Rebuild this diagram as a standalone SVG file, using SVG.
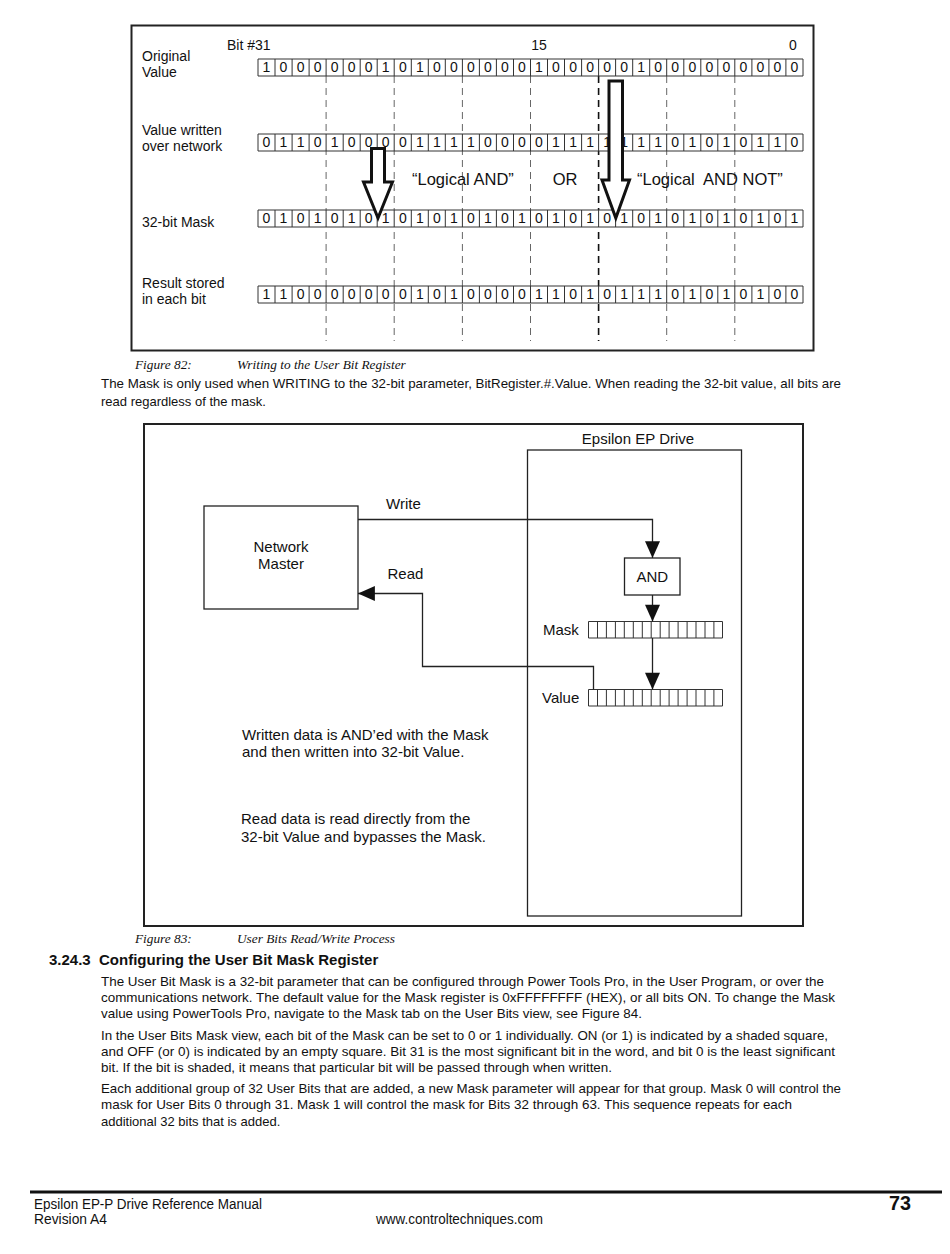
<svg xmlns="http://www.w3.org/2000/svg" xmlns:xlink="http://www.w3.org/1999/xlink" width="950" height="1254" viewBox="0 0 950 1254">
<style>
.s{font-family:"Liberation Sans",Arial,sans-serif;fill:#111}
.f14{font-size:14px}
.f15{font-size:15px}
.f13{font-size:13px}
.dig{font-family:"Liberation Sans",Arial,sans-serif;font-size:14px;fill:#111;text-anchor:middle}
.cap{font-family:"Liberation Serif","Times New Roman",serif;font-style:italic;font-size:13.3px;fill:#111}
.box{fill:#fff;stroke:#222;stroke-width:1.3}
.frame{fill:none;stroke:#222;stroke-width:2}
.dash{stroke:#666;stroke-width:1;stroke-dasharray:7,5;fill:none}
.bigarrow{fill:#fff;stroke:#111;stroke-width:3;stroke-linejoin:miter}
.conn{fill:none;stroke:#222;stroke-width:1.3}
.cells{fill:#fff;stroke:#333;stroke-width:1}
</style>
<defs>
<path id="row32" class="cells" d="M258,0H803V17H258Z M275,0V17 M292.1,0V17 M309.1,0V17 M326.1,0V17 M343.2,0V17 M360.2,0V17 M377.2,0V17 M394.2,0V17 M411.3,0V17 M428.3,0V17 M445.3,0V17 M462.4,0V17 M479.4,0V17 M496.4,0V17 M513.5,0V17 M530.5,0V17 M547.5,0V17 M564.5,0V17 M581.6,0V17 M598.6,0V17 M615.6,0V17 M632.7,0V17 M649.7,0V17 M666.7,0V17 M683.8,0V17 M700.8,0V17 M717.8,0V17 M734.8,0V17 M751.9,0V17 M768.9,0V17 M785.9,0V17"/>
<path id="row15" class="cells" d="M588.5,0H722.5V16.5H588.5Z M597.5,0V16.5 M606.4,0V16.5 M615.4,0V16.5 M624.3,0V16.5 M633.3,0V16.5 M642.3,0V16.5 M651.2,0V16.5 M660.2,0V16.5 M669.1,0V16.5 M678.1,0V16.5 M687.1,0V16.5 M696,0V16.5 M705,0V16.5 M713.9,0V16.5"/>
<marker id="ah" viewBox="0 0 18 16" refX="18" refY="8" markerWidth="18" markerHeight="15" markerUnits="userSpaceOnUse" orient="auto">
<path d="M0,0L18,8L0,16Z" fill="#111"/>
</marker>
</defs>
<rect x="0" y="0" width="950" height="1254" fill="#fff"/>

<!-- Figure 82 -->
<g id="fig82">
<rect class="frame" x="131.5" y="25.5" width="682" height="325"/>
<g id="bit-labels" class="s f14">
<text x="227" y="50">Bit #31</text>
<text x="539" y="50" text-anchor="middle">15</text>
<text x="793" y="50" text-anchor="middle">0</text>
</g>
<g id="row-labels" class="s f14">
<text x="142" y="61">Original</text>
<text x="142" y="77">Value</text>
<text x="142" y="135">Value written</text>
<text x="142" y="151">over network</text>
<text x="142" y="227">32-bit Mask</text>
<text x="142" y="288">Result stored</text>
<text x="142" y="304">in each bit</text>
</g>
<g id="group-dividers">
<path class="dash" d="M326.1,76V341 M394.2,76V341 M462.4,76V341 M530.5,76V341 M666.7,76V341 M734.8,76V341"/>
<path class="dash" d="M598.6,76V341" style="stroke:#111;stroke-width:1.6"/>
</g>
<g id="row-original">
<use xlink:href="#row32" href="#row32" y="59"/>
<text class="dig" y="72" x="266.5 283.5 300.6 317.6 334.6 351.7 368.7 385.7 402.8 419.8 436.8 453.9 470.9 487.9 504.9 522 539 556 573.1 590.1 607.1 624.2 641.2 658.2 675.2 692.3 709.3 726.3 743.4 760.4 777.4 794.5">10000001010000001000001000000000</text>
</g>
<g id="row-written">
<use xlink:href="#row32" href="#row32" y="134"/>
<text class="dig" y="147" x="266.5 283.5 300.6 317.6 334.6 351.7 368.7 385.7 402.8 419.8 436.8 453.9 470.9 487.9 504.9 522 539 556 573.1 590.1 607.1 624.2 641.2 658.2 675.2 692.3 709.3 726.3 743.4 760.4 777.4 794.5">01101000011110000111111101010110</text>
</g>
<g id="row-mask">
<use xlink:href="#row32" href="#row32" y="210"/>
<text class="dig" y="223" x="266.5 283.5 300.6 317.6 334.6 351.7 368.7 385.7 402.8 419.8 436.8 453.9 470.9 487.9 504.9 522 539 556 573.1 590.1 607.1 624.2 641.2 658.2 675.2 692.3 709.3 726.3 743.4 760.4 777.4 794.5">01010101010101010101010101010101</text>
</g>
<g id="row-result">
<use xlink:href="#row32" href="#row32" y="286"/>
<text class="dig" y="299" x="266.5 283.5 300.6 317.6 334.6 351.7 368.7 385.7 402.8 419.8 436.8 453.9 470.9 487.9 504.9 522 539 556 573.1 590.1 607.1 624.2 641.2 658.2 675.2 692.3 709.3 726.3 743.4 760.4 777.4 794.5">11000000010100001101011101010100</text>
</g>
<g id="arrow-and">
<polygon class="bigarrow" points="371.5,148.5 384.5,148.5 384.5,182 392.5,182 378,218 363.5,182 371.5,182"/>
</g>
<g id="arrow-andnot">
<polygon class="bigarrow" points="609,81 622.5,81 622.5,180 629.5,180 615.8,218 602,180 609,180"/>
</g>
<g id="op-labels" class="s" style="font-size:16.5px">
<text x="412" y="185">“Logical AND”</text>
<text x="565" y="185" text-anchor="middle">OR</text>
<text x="637" y="185" xml:space="preserve">“Logical  AND NOT”</text>
</g>
</g>
<text class="cap" x="135" y="369">Figure 82:</text>
<text class="cap" x="237" y="369">Writing to the User Bit Register</text>
<g class="s f13">
<text x="101" y="388" textLength="740" lengthAdjust="spacingAndGlyphs">The Mask is only used when WRITING to the 32-bit parameter, BitRegister.#.Value. When reading the 32-bit value, all bits are</text>
<text x="101" y="406">read regardless of the mask.</text>
</g>

<!-- Figure 83 -->
<g id="fig83">
<rect class="frame" x="144" y="424" width="659" height="502"/>
<g id="drive">
<text class="s f15" x="638" y="444" text-anchor="middle">Epsilon EP Drive</text>
<rect class="box" x="527.5" y="450" width="214" height="466" fill="none"/>
</g>
<g id="network-master">
<rect class="box" x="204" y="506" width="154" height="103"/>
<text class="s f15" x="281" y="552" text-anchor="middle">Network</text>
<text class="s f15" x="281" y="569" text-anchor="middle">Master</text>
</g>
<g id="and-gate">
<rect class="box" x="624.5" y="558" width="55.5" height="37"/>
<text class="s f15" x="652.3" y="582" text-anchor="middle">AND</text>
</g>
<g id="mask-register">
<text class="s f15" x="543" y="635">Mask</text>
<use xlink:href="#row15" href="#row15" y="621.5"/>
</g>
<g id="value-register">
<text class="s f15" x="542" y="703">Value</text>
<use xlink:href="#row15" href="#row15" y="689.5"/>
</g>
<g id="connectors">
<path class="conn" d="M358,519.5H652.5V558" marker-end="url(#ah)"/>
<path class="conn" d="M652.5,595V621.5" marker-end="url(#ah)"/>
<path class="conn" d="M652.5,638V689.5" marker-end="url(#ah)"/>
<path class="conn" d="M593.5,689.5V666.5H422.5V593.5H358" marker-end="url(#ah)"/>
<text class="s f15" x="386" y="509">Write</text>
<text class="s f15" x="387.5" y="579">Read</text>
</g>
<g id="notes" class="s f15">
<text x="242" y="740">Written data is AND’ed with the Mask</text>
<text x="242" y="757">and then written into 32-bit Value.</text>
<text x="241" y="824">Read data is read directly from the</text>
<text x="241" y="842">32-bit Value and bypasses the Mask.</text>
</g>
</g>
<text class="cap" x="135" y="943">Figure 83:</text>
<text class="cap" x="237" y="943">User Bits Read/Write Process</text>

<text class="s" x="49" y="965" style="font-size:15px;font-weight:bold" xml:space="preserve">3.24.3  Configuring the User Bit Mask Register</text>
<g class="s f13">
<text x="101" y="986" textLength="723" lengthAdjust="spacingAndGlyphs">The User Bit Mask is a 32-bit parameter that can be configured through Power Tools Pro, in the User Program, or over the</text>
<text x="101" y="1002" textLength="734" lengthAdjust="spacingAndGlyphs">communications network. The default value for the Mask register is 0xFFFFFFFF (HEX), or all bits ON. To change the Mask</text>
<text x="101" y="1018" textLength="541" lengthAdjust="spacingAndGlyphs">value using PowerTools Pro, navigate to the Mask tab on the User Bits view, see Figure 84.</text>
<text x="101" y="1040" textLength="727" lengthAdjust="spacingAndGlyphs">In the User Bits Mask view, each bit of the Mask can be set to 0 or 1 individually. ON (or 1) is indicated by a shaded square,</text>
<text x="101" y="1056" textLength="734" lengthAdjust="spacingAndGlyphs">and OFF (or 0) is indicated by an empty square. Bit 31 is the most significant bit in the word, and bit 0 is the least significant</text>
<text x="101" y="1072" textLength="511" lengthAdjust="spacingAndGlyphs">bit. If the bit is shaded, it means that particular bit will be passed through when written.</text>
<text x="101" y="1093" textLength="740" lengthAdjust="spacingAndGlyphs">Each additional group of 32 User Bits that are added, a new Mask parameter will appear for that group. Mask 0 will control the</text>
<text x="101" y="1109" textLength="691" lengthAdjust="spacingAndGlyphs">mask for User Bits 0 through 31. Mask 1 will control the mask for Bits 32 through 63. This sequence repeats for each</text>
<text x="101" y="1126">additional 32 bits that is added.</text>
</g>

<g id="footer">
<line x1="30" y1="1192" x2="942" y2="1192" stroke="#111" stroke-width="3"/>
<text class="s f14" x="34" y="1209" textLength="228" lengthAdjust="spacingAndGlyphs">Epsilon EP-P Drive Reference Manual</text>
<text class="s f14" x="34" y="1224" textLength="73" lengthAdjust="spacingAndGlyphs">Revision A4</text>
<text class="s f14" x="376" y="1224" textLength="167" lengthAdjust="spacingAndGlyphs">www.controltechniques.com</text>
<text class="s" x="889" y="1210" style="font-size:20px;font-weight:bold" textLength="22" lengthAdjust="spacingAndGlyphs">73</text>
</g>
</svg>
